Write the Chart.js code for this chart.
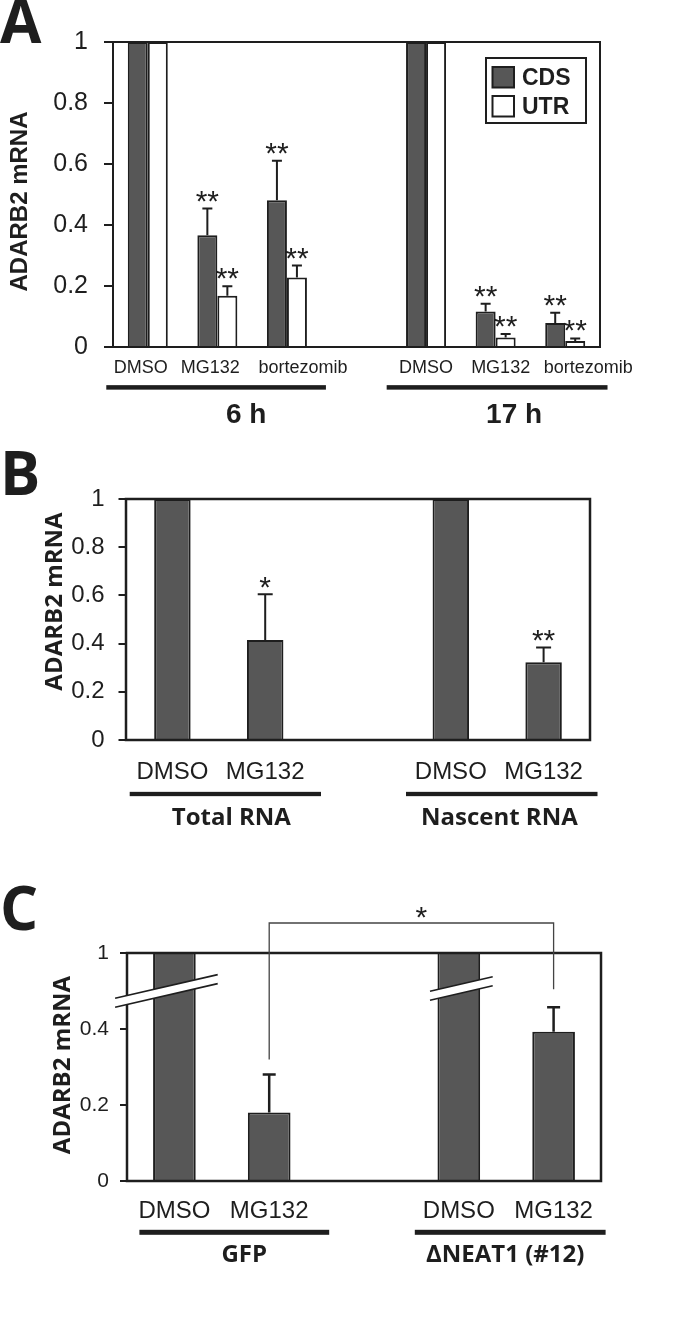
<!DOCTYPE html>
<html>
<head>
<meta charset="utf-8">
<script src="https://cdn.jsdelivr.net/npm/chart.js@4.4.1/dist/chart.umd.min.js"></script>
<style>
  html, body { margin: 0; padding: 0; background: #fff; }
  #page { position: relative; width: 680px; height: 1325px; }
  canvas { position: absolute; left: 0; }
</style>
</head>
<body>
<div id="page">
  <canvas id="chartA" width="680" height="440" style="top:0px"></canvas>
  <canvas id="chartB" width="680" height="430" style="top:430px"></canvas>
  <canvas id="chartC" width="680" height="455" style="top:870px"></canvas>
</div>
<script>
// panel A - CDS / UTR after proteasome inhibitors
const categoriesA = ['DMSO', 'MG132', 'bortezomib', '', 'DMSO', 'MG132', 'bortezomib'];
const cdsA = [1, 0.366, 0.481, null, 1, 0.116, 0.079];
const cdsErrA = [0, 0.088, 0.130, null, 0, 0.026, 0.033];
const utrA = [1, 0.168, 0.228, null, 1, 0.031, 0.020];
const utrErrA = [0, 0.031, 0.039, null, 0, 0.012, 0.008];
const cdsStarsA = ['', '**', '**', '', '', '**', '**'];
const utrStarsA = ['', '**', '**', '', '', '**', '**'];
const groupsA = ['6 h', '17 h'];

// panel B - total vs nascent RNA
const categoriesB = ['DMSO', 'MG132', '', 'DMSO', 'MG132'];
const valuesB = [1, 0.415, null, 1, 0.323];
const errB = [0, 0.190, null, 0, 0.061];
const starsB = ['', '*', '', '', '**'];
const groupsB = ['Total RNA', 'Nascent RNA'];

// panel C - GFP vs NEAT1 knockout (axis broken between 0.4 and 1)
const categoriesC = ['DMSO', 'MG132', '', 'DMSO', 'MG132'];
const valuesC = [1, 0.180, null, 1, 0.393];
const errC = [0, 0.100, null, 0, 0.064];
const groupsC = ['GFP', 'ΔNEAT1 (#12)'];
const yTicksC = ['0', '0.2', '0.4', '1'];

const INK = '#1e1e1e';
const BAR = '#575757';
const SANS = '"Liberation Sans", Arial, sans-serif';
const HUM = '"Open Sans", sans-serif';

function vTitle(ctx, text, cx, cy, font, capH) {
  ctx.save();
  ctx.translate(cx + capH / 2, cy);
  ctx.rotate(-Math.PI / 2);
  ctx.font = font;
  ctx.textAlign = 'center';
  ctx.textBaseline = 'alphabetic';
  ctx.fillText(text, 0, 0);
  ctx.restore();
}

// frame, error bars, stars, labels, legend etc.
const decor = {
  id: 'decor',
  afterDraw(chart, args, o) {
    const ctx = chart.ctx;
    const ca = chart.chartArea;
    const xs = chart.scales.x, ys = chart.scales.y;
    ctx.save();
    ctx.fillStyle = INK;
    ctx.strokeStyle = INK;

    // frame
    ctx.lineWidth = o.frameWidth;
    ctx.strokeRect(ca.left, ca.top, ca.right - ca.left, ca.bottom - ca.top);

    // error bars and stars
    chart.data.datasets.forEach((ds, di) => {
      const meta = chart.getDatasetMeta(di);
      meta.data.forEach((bar, i) => {
        const v = ds.data[i], e = ds.err[i];
        if (v == null || !e) return;
        const yTop = ys.getPixelForValue(v + e);
        ctx.lineWidth = o.errWidth;
        ctx.beginPath();
        ctx.moveTo(bar.x, bar.y);
        ctx.lineTo(bar.x, yTop);
        ctx.moveTo(bar.x - o.cap / 2, yTop);
        ctx.lineTo(bar.x + o.cap / 2, yTop);
        ctx.stroke();
        if (ds.stars && ds.stars[i]) {
          ctx.font = '30px ' + SANS;
          ctx.textAlign = 'center';
          ctx.textBaseline = 'alphabetic';
          ctx.fillText(ds.stars[i], bar.x, yTop + o.starDy);
        }
      });
    });

    // axis breaks
    (o.breaks || []).forEach(b => {
      const bar = chart.getDatasetMeta(0).data[b.index];
      const yc = ys.getPixelForValue(b.at);
      const x1 = bar.x + b.from, x2 = bar.x + b.to;
      const s = -0.23, h = 4.5;
      const yy = x => yc + s * (x - bar.x);
      ctx.fillStyle = '#fff';
      ctx.beginPath();
      ctx.moveTo(x1, yy(x1) - h); ctx.lineTo(x2, yy(x2) - h);
      ctx.lineTo(x2, yy(x2) + h); ctx.lineTo(x1, yy(x1) + h);
      ctx.closePath();
      ctx.fill();
      ctx.lineWidth = 1.6;
      ctx.beginPath();
      ctx.moveTo(x1, yy(x1) - h); ctx.lineTo(x2, yy(x2) - h);
      ctx.moveTo(x1, yy(x1) + h); ctx.lineTo(x2, yy(x2) + h);
      ctx.stroke();
      ctx.fillStyle = INK;
    });

    // significance bracket
    if (o.bracket) {
      const bk = o.bracket;
      const ds = chart.data.datasets[0];
      const m = chart.getDatasetMeta(0).data;
      const a = m[bk.a], b = m[bk.b];
      const ya = ys.getPixelForValue(ds.data[bk.a] + ds.err[bk.a]) - bk.gapA;
      const yb = ys.getPixelForValue(ds.data[bk.b] + ds.err[bk.b]) - bk.gapB;
      const yl = ca.top - bk.rise;
      ctx.strokeStyle = '#444';
      ctx.lineWidth = 1.3;
      ctx.beginPath();
      ctx.moveTo(a.x, ya); ctx.lineTo(a.x, yl); ctx.lineTo(b.x, yl); ctx.lineTo(b.x, yb);
      ctx.stroke();
      ctx.font = '30px ' + SANS;
      ctx.textAlign = 'center';
      ctx.fillText(bk.text, (a.x + b.x) / 2 + 10, yl + 3.5);
      ctx.strokeStyle = INK;
    }

    // category labels
    ctx.font = o.labelFont;
    ctx.textAlign = 'center';
    ctx.textBaseline = 'alphabetic';
    chart.data.labels.forEach((lab, i) => {
      if (!lab) return;
      ctx.fillText(lab, xs.getPixelForValue(i) + (o.labelShift ? o.labelShift[i] : 0), ca.bottom + o.labelDy);
    });

    // group underlines and names
    o.groups.forEach((g, gi) => {
      const x1 = xs.getPixelForValue(g.span[0]) - g.pad[0];
      const x2 = xs.getPixelForValue(g.span[1]) + g.pad[1];
      ctx.fillRect(x1, ca.bottom + o.lineDy - o.lineW / 2, x2 - x1, o.lineW);
      ctx.font = o.groupFont;
      ctx.fillText(o.groupNames[gi], (x1 + x2) / 2 + g.shift, ca.bottom + o.groupDy);
    });

    // y title
    vTitle(ctx, 'ADARB2 mRNA', o.titleX, (ca.top + ca.bottom) / 2 + o.titleDy, o.titleFont, o.titleCap);

    // panel letter
    ctx.font = 'bold 60px ' + HUM;
    ctx.textAlign = 'left';
    ctx.fillText(o.letter, o.letterX, o.letterY);

    // legend
    if (o.legend) {
      const L = o.legend;
      ctx.lineWidth = 2;
      ctx.strokeRect(L.x, L.y, L.w, L.h);
      ctx.font = 'bold 23px ' + SANS;
      chart.data.datasets.forEach((ds, di) => {
        const sy = L.y + 9 + di * 29;
        ctx.fillStyle = ds.backgroundColor;
        ctx.fillRect(L.x + 6.5, sy, 21.5, 20.5);
        ctx.strokeRect(L.x + 6.5, sy, 21.5, 20.5);
        ctx.fillStyle = INK;
        ctx.fillText(ds.label, L.x + 36, sy + 17.5);
      });
    }
    ctx.restore();
  }
};

function yAxis(opts) {
  return {
    min: 0, max: opts.max || 1,
    afterFit: s => { s.width = opts.width; },
    ticks: {
      stepSize: 0.2, padding: opts.pad, color: INK, font: { family: SANS, size: opts.size },
      callback: opts.labels ? (v, i) => opts.labels[i] : v => String(Math.round(v * 10) / 10)
    },
    grid: { drawOnChartArea: false, tickLength: opts.tick, color: INK, lineWidth: 2 },
    border: { display: true, color: INK, width: 2 }
  };
}

function barSet(label, data, err, stars, fill, pct) {
  return {
    label: label, data: data, err: err, stars: stars,
    backgroundColor: fill, borderColor: INK, borderWidth: 2, borderSkipped: 'start',
    categoryPercentage: pct, barPercentage: 1
  };
}

const base = { responsive: false, animation: false, devicePixelRatio: 1 };

new Chart(document.getElementById('chartA'), {
  type: 'bar',
  data: {
    labels: categoriesA,
    datasets: [
      barSet('CDS', cdsA, cdsErrA, cdsStarsA, BAR, 0.575),
      barSet('UTR', utrA, utrErrA, utrStarsA, '#ffffff', 0.575)
    ]
  },
  options: Object.assign({}, base, {
    layout: { padding: { left: 0, right: 80, top: 42, bottom: 93 } },
    scales: { x: { display: false }, y: yAxis({ width: 113, pad: 16, size: 25, tick: 9 }) },
    plugins: {
      legend: { display: false }, tooltip: { enabled: false },
      decor: {
        frameWidth: 2, errWidth: 2, cap: 10, starDy: 2,
        labelFont: '18px ' + SANS, labelDy: 26, labelShift: [-7, -7, 16, 0, 0, 5, 23],
        lineDy: 40.4, lineW: 4.5, groupDy: 76, groupFont: 'bold 28px ' + SANS,
        groupNames: groupsA,
        groups: [{ span: [0, 2], pad: [41.5, 39], shift: 30 }, { span: [4, 6], pad: [39.4, 42.3], shift: 17 }],
        titleX: 18.5, titleDy: 7, titleFont: 'bold 24px ' + SANS, titleCap: 17,
        letter: 'A', letterX: 0, letterY: 43,
        legend: { x: 486, y: 58, w: 100, h: 65 }
      }
    }
  }),
  plugins: [decor]
});

new Chart(document.getElementById('chartB'), {
  type: 'bar',
  data: {
    labels: categoriesB,
    datasets: [barSet('CDS', valuesB, errB, starsB, BAR, 0.393)]
  },
  options: Object.assign({}, base, {
    layout: { padding: { left: 0, right: 90, top: 69, bottom: 120 } },
    scales: { x: { display: false }, y: yAxis({ width: 126, pad: 14, size: 24, tick: 7.5 }) },
    plugins: {
      legend: { display: false }, tooltip: { enabled: false },
      decor: {
        frameWidth: 2.5, errWidth: 2, cap: 15, starDy: 3,
        labelFont: '24px ' + SANS, labelDy: 39.3,
        lineDy: 54, lineW: 4.3, groupDy: 85, groupFont: 'bold 24px ' + HUM,
        groupNames: groupsB,
        groups: [{ span: [0, 1], pad: [42.7, 55.8], shift: 6 }, { span: [3, 4], pad: [44.8, 53.9], shift: -2.4 }],
        titleX: 53.3, titleDy: -18, titleFont: 'bold 24px ' + HUM, titleCap: 17,
        letter: 'B', letterX: 0, letterY: 65
      }
    }
  }),
  plugins: [decor]
});

new Chart(document.getElementById('chartC'), {
  type: 'bar',
  data: {
    labels: categoriesC,
    datasets: [barSet('CDS', valuesC, errC, null, BAR, 0.45)]
  },
  options: Object.assign({}, base, {
    layout: { padding: { left: 0, right: 79, top: 83, bottom: 144 } },
    scales: {
      x: { display: false },
      // the top tick stands for 1, above the break
      y: yAxis({ width: 127, pad: 11, size: 21, tick: 7, max: 0.6, labels: yTicksC })
    },
    plugins: {
      legend: { display: false }, tooltip: { enabled: false },
      decor: {
        frameWidth: 2.5, errWidth: 2.5, cap: 13, starDy: 1,
        labelFont: '24px ' + SANS, labelDy: 37.3,
        lineDy: 51.3, lineW: 5, groupDy: 81, groupFont: 'bold 24px ' + HUM,
        groupNames: groupsC,
        groups: [{ span: [0, 1], pad: [35, 60], shift: 10 }, { span: [3, 4], pad: [44, 52], shift: -5 }],
        titleX: 61, titleDy: -2, titleFont: 'bold 24px ' + HUM, titleCap: 17,
        letter: 'C', letterX: 0, letterY: 60,
        breaks: [{ index: 0, at: 0.505, from: -59.3, to: 43.3 }, { index: 3, at: 0.505, from: -28.8, to: 33.9 }],
        bracket: { a: 1, b: 4, rise: 30, gapA: 15, gapB: 18, text: '*' }
      }
    }
  }),
  plugins: [decor]
});
</script>
</body>
</html>
